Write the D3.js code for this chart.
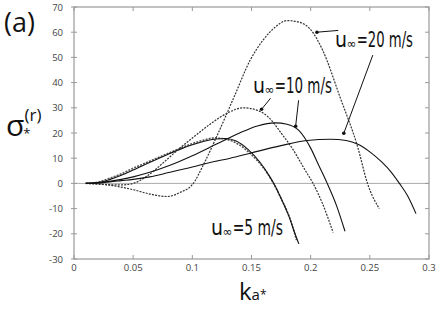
<!DOCTYPE html>
<html>
<head>
<meta charset="utf-8">
<script src="https://cdn.jsdelivr.net/npm/d3@7"></script>
<style>
  body { margin: 0; background: #fff; }
  svg { display: block; }
</style>
</head>
<body>
<script>
// values: [k_a*, sigma_*^(r)]
const u5Dotted = [[0.01,0],[0.02,0.5],[0.03,2],[0.04,3.8],[0.05,6],[0.06,8],[0.07,10],[0.08,12],[0.09,14],
  [0.1,15.8],[0.11,17.2],[0.118,18],[0.125,17.8],[0.135,16.5],[0.145,13.5],[0.155,9],[0.162,5],[0.168,0.5],
  [0.175,-6],[0.18,-11],[0.184,-16],[0.188,-22.5]];
const u5Solid = [[0.01,0],[0.02,0.3],[0.03,1.5],[0.04,3.2],[0.05,5.3],[0.06,7.5],[0.07,9.6],[0.08,11.7],[0.09,13.6],
  [0.1,15.3],[0.11,16.7],[0.12,17.6],[0.128,17.8],[0.137,16.8],[0.147,13.5],[0.157,8.5],[0.165,3],[0.17,-1],
  [0.177,-8],[0.182,-13.5],[0.186,-19],[0.19,-24]];
const u10Dotted = [[0.01,0],[0.02,-0.2],[0.03,-0.5],[0.04,-0.6],[0.05,0],[0.062,3],[0.075,8],[0.087,13],[0.1,18],
  [0.115,23.5],[0.13,28],[0.143,30],[0.155,29],[0.165,26],[0.175,20],[0.185,13.5],[0.195,5.5],[0.202,0],
  [0.21,-8],[0.219,-19.5]];
const u10Solid = [[0.01,0],[0.02,0.2],[0.03,0.8],[0.04,1.6],[0.05,2.6],[0.064,4.4],[0.08,7],[0.1,11],[0.12,15.5],
  [0.14,20],[0.155,22.8],[0.17,24],[0.18,23.5],[0.19,21],[0.2,14],[0.207,7],[0.214,0],[0.222,-9],[0.229,-19]];
const u20Dotted = [[0.01,0],[0.03,-0.7],[0.05,-2.5],[0.065,-4.3],[0.079,-5.2],[0.09,-3.5],[0.1,-0.5],[0.11,8],
  [0.12,18],[0.135,34],[0.149,49],[0.16,57],[0.17,62],[0.18,64.6],[0.19,64],[0.2,61],[0.21,53],[0.225,34],
  [0.24,14],[0.248,0],[0.258,-10]];
const u20Solid = [[0.01,0],[0.02,0.2],[0.03,0.6],[0.04,1.1],[0.05,1.6],[0.064,2.6],[0.08,4.3],[0.1,6.5],[0.115,8.3],
  [0.132,10],[0.149,12],[0.175,15],[0.197,17],[0.217,17.5],[0.23,17],[0.24,15.5],[0.25,12.5],[0.26,8.5],
  [0.268,4.5],[0.275,0],[0.282,-5],[0.289,-12]];

const xTicks = [0, 0.05, 0.1, 0.15, 0.2, 0.25, 0.3];
const yTicks = [-30, -20, -10, 0, 10, 20, 30, 40, 50, 60, 70];

const width = 436, height = 311;
const padL = 74, padR = 429, padT = 7, padB = 259;

const svg = d3.select("body").append("svg")
    .attr("width", width)
    .attr("height", height);

const x = d3.scaleLinear().domain([0, 0.3]).range([padL, padR]);
const y = d3.scaleLinear().domain([-30, 70]).range([padB, padT]);

const axisColor = "#999";
const tickFont = "Open Sans, DejaVu Sans, sans-serif";

// frame
svg.append("rect")
    .attr("x", padL).attr("y", padT)
    .attr("width", padR - padL).attr("height", padB - padT)
    .attr("fill", "none").attr("stroke", axisColor).attr("stroke-width", 1.2);

// zero line
svg.append("line")
    .attr("x1", padL).attr("x2", padR)
    .attr("y1", y(0)).attr("y2", y(0))
    .attr("stroke", "#aaa").attr("stroke-width", 1);

// ticks on all four sides
svg.selectAll(".xt").data(xTicks).enter().append("line")
    .attr("x1", d => x(d)).attr("x2", d => x(d))
    .attr("y1", padB).attr("y2", padB - 4)
    .attr("stroke", axisColor);
svg.selectAll(".xtt").data(xTicks).enter().append("line")
    .attr("x1", d => x(d)).attr("x2", d => x(d))
    .attr("y1", padT).attr("y2", padT + 4)
    .attr("stroke", axisColor);
svg.selectAll(".yt").data(yTicks).enter().append("line")
    .attr("x1", padL - 3).attr("x2", padL + 3)
    .attr("y1", d => y(d)).attr("y2", d => y(d))
    .attr("stroke", axisColor);
svg.selectAll(".ytr").data(yTicks).enter().append("line")
    .attr("x1", padR - 4).attr("x2", padR)
    .attr("y1", d => y(d)).attr("y2", d => y(d))
    .attr("stroke", axisColor);

// tick labels
svg.selectAll(".xl").data(xTicks).enter().append("text")
    .attr("x", d => x(d)).attr("y", 270.5)
    .attr("text-anchor", "middle")
    .attr("font-family", tickFont).attr("font-size", 9.5).attr("fill", "#444")
    .text(d => d);
svg.selectAll(".yl").data(yTicks).enter().append("text")
    .attr("x", 63).attr("y", d => y(d) + 3.5)
    .attr("text-anchor", "end")
    .attr("font-family", tickFont).attr("font-size", 9.5).attr("fill", "#444")
    .text(d => d);

// curves
const line = d3.line()
    .x(d => x(d[0]))
    .y(d => y(d[1]))
    .curve(d3.curveMonotoneX);

const series = [
  { data: u5Dotted, dash: "2,1.2", color: "#555", w: 1.6 },
  { data: u5Solid, dash: null, color: "#111", w: 1.1 },
  { data: u10Dotted, dash: "2,1.2", color: "#333", w: 1.2 },
  { data: u10Solid, dash: null, color: "#111", w: 1.1 },
  { data: u20Dotted, dash: "2,1.2", color: "#333", w: 1.2 },
  { data: u20Solid, dash: null, color: "#111", w: 1.1 }
];

svg.selectAll(".curve").data(series).enter().append("path")
    .attr("d", d => line(d.data))
    .attr("fill", "none")
    .attr("stroke", d => d.color)
    .attr("stroke-width", d => d.w)
    .attr("stroke-dasharray", d => d.dash);

// annotations: separate pieces so the subscript sits low without tspan shifts
const labelFont = "DejaVu Sans Condensed, DejaVu Sans, sans-serif";
function speedLabel(px, py, val, endX) {
  const g = svg.append("g").attr("fill", "#111").attr("font-family", labelFont);
  const u = g.append("text").attr("x", px).attr("y", py).attr("font-size", 21).text("u");
  const uw = u.node().getComputedTextLength();
  const inf = g.append("text").attr("x", px + uw - 0.5).attr("y", py + 1)
      .attr("font-size", 13).text("\u221e");
  const iw = inf.node().getComputedTextLength();
  const restX = px + uw + iw;
  g.append("text").attr("x", restX).attr("y", py).attr("font-size", 21)
      .attr("textLength", endX - restX).attr("lengthAdjust", "spacingAndGlyphs")
      .text("=" + val + " m/s");
}
speedLabel(335, 47, 20, 413);
speedLabel(253, 93, 10, 332);
speedLabel(211, 235, 5, 283);

// pointers: [fromK, fromS, toK, toS]
const pointers = [
  [0.2233, 60.7, 0.2053, 60],
  [0.2525, 50.9, 0.2280, 19.9],
  [0.1661, 33.8, 0.1585, 29.4],
  [0.1898, 33.0, 0.1873, 22.7],
];
svg.selectAll(".ptr").data(pointers).enter().append("line")
    .attr("x1", d => x(d[0])).attr("y1", d => y(d[1]))
    .attr("x2", d => x(d[2])).attr("y2", d => y(d[3]))
    .attr("stroke", "#111").attr("stroke-width", 1);
svg.selectAll(".ptrdot").data(pointers).enter().append("circle")
    .attr("cx", d => x(d[2])).attr("cy", d => y(d[3]))
    .attr("r", 1.8).attr("fill", "#111");

// panel label
svg.append("text")
    .attr("x", 4).attr("y", 32)
    .attr("font-family", "Open Sans, DejaVu Sans, sans-serif").attr("font-size", 27).attr("fill", "#111")
    .text("(a)");

// y axis title
const yt = svg.append("text")
    .attr("x", 6).attr("y", 136)
    .attr("font-family", "Open Sans, DejaVu Sans, sans-serif").attr("font-size", 30).attr("fill", "#111");
yt.append("tspan").text("\u03c3");
yt.append("tspan").attr("font-size", 13).attr("dy", 2).attr("dx", -1).text("*");
yt.append("tspan").attr("font-size", 17).attr("dy", -17).attr("dx", -6).text("(r)");

// x axis title
const xt = svg.append("text")
    .attr("x", 239).attr("y", 299.5)
    .attr("font-family", "Open Sans, DejaVu Sans, sans-serif").attr("font-size", 24).attr("fill", "#111");
xt.append("tspan").text("k");
xt.append("tspan").attr("font-size", 15).text("a");
xt.append("tspan").attr("font-size", 12).attr("dy", -1).text("*");
</script>
</body>
</html>
